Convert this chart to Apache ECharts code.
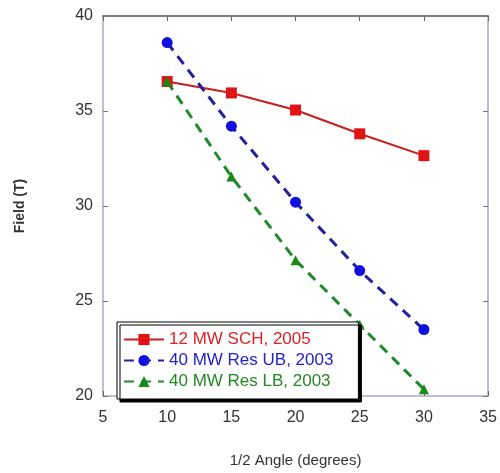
<!DOCTYPE html>
<html>
<head>
<meta charset="utf-8">
<script src="https://cdn.jsdelivr.net/npm/echarts@6/dist/echarts.min.js"></script>
<style>html,body{margin:0;padding:0;background:#fff}#c{width:500px;height:473px}</style>
</head>
<body>
<div id="c"></div>
<script>
var angles = [10, 15, 20, 25, 30];
var sch2005 = [36.55, 35.95, 35.05, 33.8, 32.65];
var resUB2003 = [38.6, 34.2, 30.2, 26.6, 23.5];
var resLB2003 = [36.55, 31.55, 27.15, 23.75, 20.35];
var seriesNames = ['12 MW SCH, 2005', '40 MW Res UB, 2003', '40 MW Res LB, 2003'];
var xTicks = [5, 10, 15, 20, 25, 30, 35];
var yTicks = [20, 25, 30, 35, 40];

function pairs(ys){ return angles.map(function(x,i){ return [x, ys[i]]; }); }

var frameLight = '#a9a9cf';
var font = 'Liberation Sans, Arial, sans-serif';
var chart = echarts.init(document.getElementById('c'), null, {renderer:'canvas'});
chart.setOption({
  animation: false,
  backgroundColor: '#fff',
  grid: {left: 103, right: 10, top: 16, bottom: 69, containLabel: false},
  legend: {
    orient: 'vertical',
    left: 117, top: 322,
    padding: [9, 25, 9, 6],
    itemGap: 4,
    itemWidth: 40, itemHeight: 14,
    backgroundColor: '#fff',
    borderColor: '#000', borderWidth: 1,
    shadowColor: '#000', shadowBlur: 0, shadowOffsetX: 3, shadowOffsetY: 3,
    textStyle: {fontFamily: font, fontSize: 17},
    data: [
      {name: seriesNames[0], textStyle: {color: '#dd2222'}},
      {name: seriesNames[1], textStyle: {color: '#2222cc'}},
      {name: seriesNames[2], textStyle: {color: '#228822'}}
    ]
  },
  xAxis: [{
    type: 'value', min: 5, max: 35, interval: 5,
    name: '1/2 Angle (degrees)', nameLocation: 'middle', nameGap: 57,
    nameTextStyle: {fontFamily: font, fontSize: 15, color: '#333'},
    axisLine: {show: true, lineStyle: {color: frameLight, width: 1.5}},
    axisTick: {show: true, inside: true, length: 5, lineStyle: {color: '#666'}},
    axisLabel: {fontFamily: font, fontSize: 16, color: '#333', margin: 14,
      formatter: function(v){ return xTicks.indexOf(v) >= 0 ? String(v) : ''; }},
    splitLine: {show: false}
  }, {
    type: 'value', min: 5, max: 35, interval: 5, position: 'top',
    axisLine: {show: true, onZero: false, lineStyle: {color: '#555', width: 1.5}},
    axisTick: {show: true, inside: true, length: 5, lineStyle: {color: '#666'}},
    axisLabel: {show: false}, splitLine: {show: false}
  }],
  yAxis: [{
    type: 'value', min: 20, max: 40, interval: 5,
    name: 'Field (T)', nameLocation: 'middle', nameGap: 76,
    nameTextStyle: {fontFamily: font, fontSize: 14, color: '#333', fontWeight: 'bold'},
    axisLine: {show: true, lineStyle: {color: frameLight, width: 1.5}},
    axisTick: {show: true, inside: true, length: 5, lineStyle: {color: '#777'}},
    axisLabel: {fontFamily: font, fontSize: 16, color: '#333', margin: 10,
      formatter: function(v){ return yTicks.indexOf(v) >= 0 ? String(v) : ''; }},
    splitLine: {show: false}
  }, {
    type: 'value', min: 20, max: 40, interval: 5, position: 'right',
    axisLine: {show: true, onZero: false, lineStyle: {color: frameLight, width: 1.5}},
    axisTick: {show: true, inside: true, length: 5, lineStyle: {color: '#777'}},
    axisLabel: {show: false}, splitLine: {show: false}
  }],
  series: [{
    name: seriesNames[0], type: 'line', data: pairs(sch2005),
    symbol: 'rect', symbolSize: 11,
    itemStyle: {color: '#e01414'},
    lineStyle: {color: '#c81e1e', width: 2}
  }, {
    name: seriesNames[1], type: 'line', data: pairs(resUB2003),
    symbol: 'circle', symbolSize: 11,
    itemStyle: {color: '#1010e0'},
    lineStyle: {color: '#22229a', width: 3, type: [10, 7]}
  }, {
    name: seriesNames[2], type: 'line', data: pairs(resLB2003),
    symbol: 'triangle', symbolSize: 10,
    itemStyle: {color: '#178a17'},
    lineStyle: {color: '#1f8a2a', width: 3, type: [10, 7]}
  }]
});
</script>
</body>
</html>
